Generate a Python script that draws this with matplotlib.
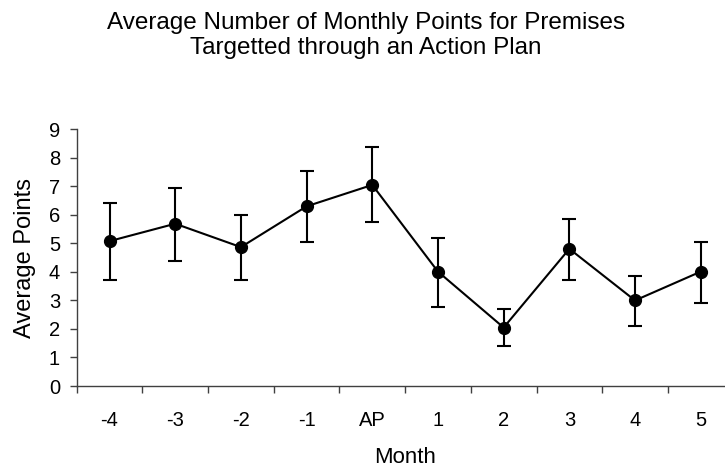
import matplotlib
matplotlib.use("Agg")
import matplotlib.pyplot as plt
import numpy as np

months = ["-4", "-3", "-2", "-1", "AP", "1", "2", "3", "4", "5"]
avg_points = [5.08, 5.69, 4.87, 6.30, 7.05, 4.01, 2.05, 4.81, 3.00, 4.01]
upper = [6.41, 6.95, 6.01, 7.55, 8.38, 5.19, 2.69, 5.86, 3.85, 5.06]
lower = [3.71, 4.38, 3.71, 5.06, 5.74, 2.76, 1.41, 3.71, 2.10, 2.90]
y_ticks = [0, 1, 2, 3, 4, 5, 6, 7, 8, 9]

plt.rcParams['font.family'] = ['Liberation Sans', 'DejaVu Sans']

fig = plt.figure(figsize=(7.25, 4.67), dpi=100)
ax = fig.add_axes([0.1058, 0.1734, 0.906, 0.5497])

x = np.arange(len(months))
avg = np.array(avg_points)
yerr = np.vstack([avg - np.array(lower), np.array(upper) - avg])

ax.errorbar(x, avg, yerr=yerr, color='black', linewidth=1.5, elinewidth=1.5,
            capsize=5.3, capthick=1.5, marker='o', markersize=8.5,
            markerfacecolor='black', markeredgecolor='black')

ax.set_xlim(-0.5, len(months) - 0.5)
ax.set_ylim(0, 9)
ax.set_yticks(y_ticks)
ax.set_yticklabels([str(v) for v in y_ticks])
ax.set_xticks(x)
ax.set_xticklabels(months)
ax.set_xticks(np.arange(-0.5, len(months), 1.0), minor=True)
ax.tick_params(axis='x', which='major', length=0, pad=18, labelsize=14.5)
ax.tick_params(axis='x', which='minor', length=5, width=1, color='#404040', direction='out')
ax.tick_params(axis='y', which='major', length=5, width=1, color='#404040',
               direction='out', pad=7, labelsize=14.5)

for s in ['top', 'right']:
    ax.spines[s].set_visible(False)
for s in ['left', 'bottom']:
    ax.spines[s].set_color('#404040')
    ax.spines[s].set_linewidth(1)

ax.set_xlabel("Month", fontsize=16, labelpad=12)
ax.set_ylabel("Average Points", fontsize=17, labelpad=9)

fig.text(0.505, 1 - 35.5 / 467,
         "Average Number of Monthly Points for Premises\nTargetted through an Action Plan",
         ha='center', va='center', fontsize=17.5, linespacing=1.2)

fig.savefig("out.png", dpi=100)
